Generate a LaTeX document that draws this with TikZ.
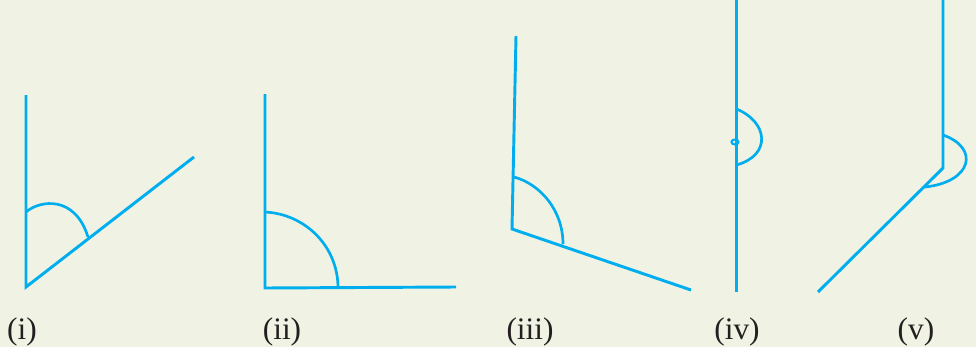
\documentclass[tikz,border=0pt]{standalone}
\usepackage{fontspec}
\setmainfont{Liberation Serif}
\definecolor{rayblue}{RGB}{0,174,239}
\definecolor{paper}{RGB}{240,243,227}
\definecolor{labelgrey}{RGB}{35,31,32}
\tikzset{every picture/.style={line width=0.75pt}}
\tikzset{ray/.style={draw=rayblue,line width=2.2pt},
  anglemark/.style={draw=rayblue,line width=2pt},
  caselabel/.style={anchor=base,inner sep=0.75pt,text=labelgrey,font=\fontsize{23.5}{28}\selectfont}}
\begin{document}
\begin{tikzpicture}[x=0.75pt,y=0.75pt,yscale=-1,xscale=1]
%set diagram size 976 x 347
\fill [paper] (0,0) rectangle (976,347);
\useasboundingbox (0,0) rectangle (976,347);

%Shape: Angle (i)
\draw [ray]  (26,95) -- (26,287) -- (194,157) ;
\draw [anglemark]  (26,212) .. controls (40,200) and (75,195) .. (88,237) ;

%Shape: Angle (ii)
\draw [ray]  (265,94) -- (265,288) -- (456,287) ;
\draw [anglemark]  (265,212) .. controls (305,214) and (338,246) .. (338,288) ;

%Shape: Angle (iii)
\draw [ray]  (516,36) -- (512,229) -- (691,290) ;
\draw [anglemark]  (514,177) .. controls (540,184) and (563,210) .. (563,244) ;

%Shape: Angle (iv)
\draw [ray]  (736.5,0) -- (736.5,292) ;
\draw [anglemark]  (736.5,109) .. controls (768,122) and (772,155) .. (736.5,165) ;
\draw [anglemark,line width=1.6pt]  (735,142) ellipse (3.5 and 2.5) ;

%Shape: Angle (v)
\draw [ray]  (943,0) -- (943,168) -- (818,292) ;
\draw [anglemark]  (943,135) .. controls (980,148) and (972,182) .. (925,187) ;

% Text Node
\node [caselabel] (lbl1) at (22,339) {(i)};
% Text Node
\node [caselabel] (lbl2) at (282,339) {(ii)};
% Text Node
\node [caselabel] (lbl3) at (530,339) {(iii)};
% Text Node
\node [caselabel] (lbl4) at (737,339) {(iv)};
% Text Node
\node [caselabel] (lbl5) at (916,339) {(v)};

\end{tikzpicture}
\end{document}
